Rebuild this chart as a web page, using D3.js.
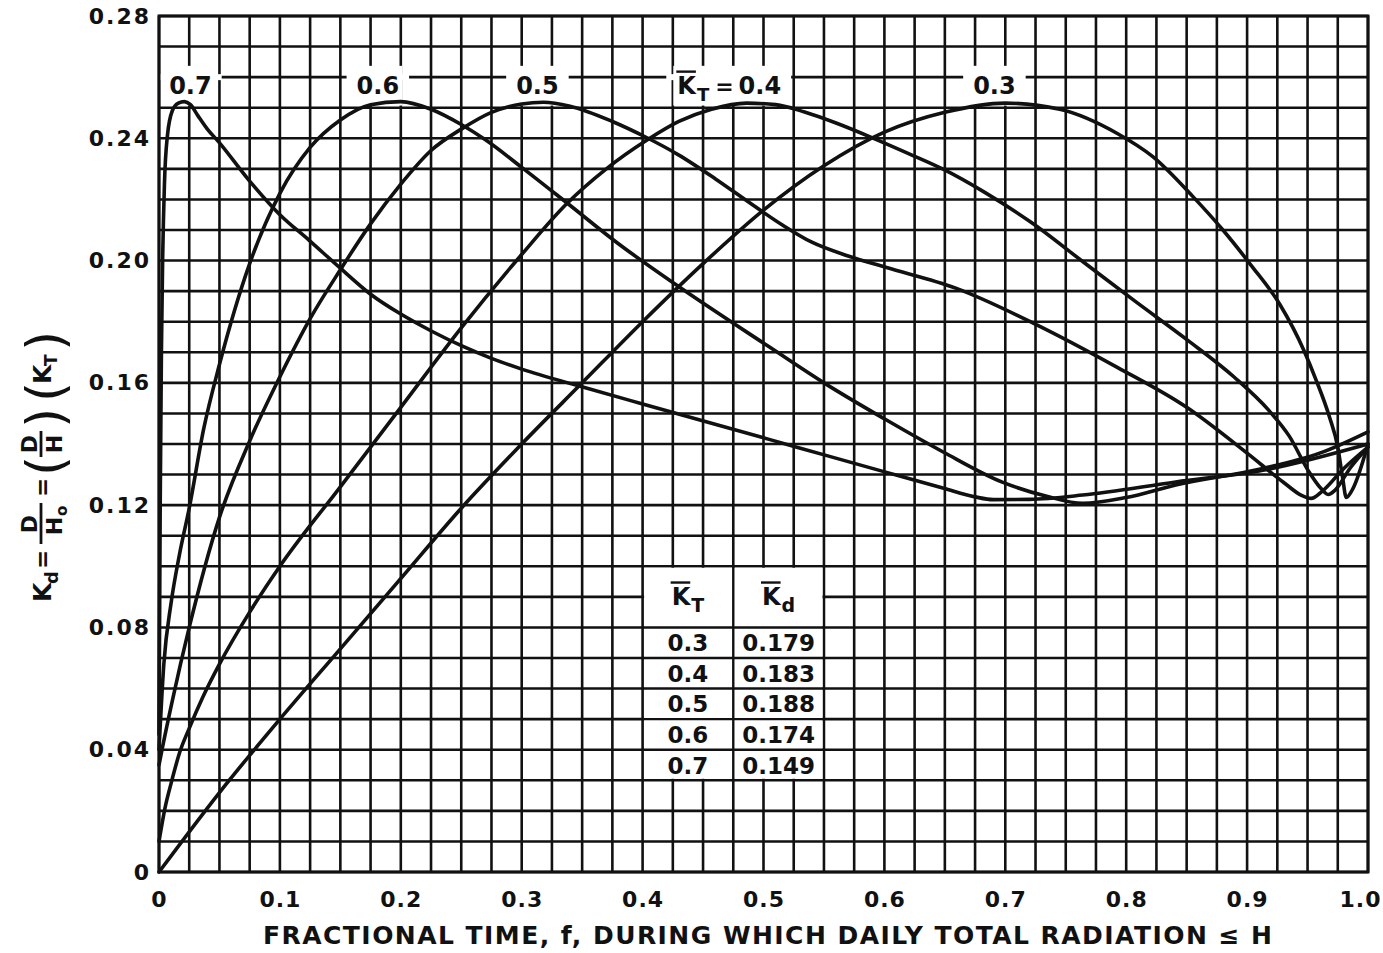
<!DOCTYPE html>
<html><head><meta charset="utf-8">
<script src="https://cdn.jsdelivr.net/npm/d3@7"></script>
<style>html,body{margin:0;padding:0;background:#fff;} svg{display:block;}</style>
</head><body><svg id="chart" width="1383" height="953"></svg>
<script>
// ---------------- data ----------------
const seriesNames = ["0.3", "0.4", "0.5", "0.6", "0.7"];

const f03 = [0, 0.05, 0.1, 0.15, 0.2, 0.25, 0.3, 0.35, 0.4, 0.45, 0.5, 0.55, 0.6, 0.65, 0.7, 0.745, 0.793, 0.822, 0.855, 0.88, 0.903, 0.927, 0.947, 0.957, 0.968, 0.975, 0.979, 0.982, 0.987, 1.0];
const k03 = [0, 0.026, 0.05, 0.073, 0.096, 0.119, 0.14, 0.16, 0.18, 0.199, 0.2165, 0.231, 0.242, 0.2485, 0.2515, 0.2495, 0.2415, 0.234, 0.221, 0.21, 0.1986, 0.1857, 0.1706, 0.161, 0.149, 0.139, 0.129, 0.1225, 0.125, 0.14];

const f04 = [0, 0.005, 0.01, 0.017, 0.025, 0.036, 0.05, 0.075, 0.1, 0.15, 0.2, 0.25, 0.3, 0.337, 0.37, 0.404, 0.43, 0.457, 0.486, 0.51, 0.534, 0.56, 0.591, 0.62, 0.649, 0.683, 0.721, 0.764, 0.807, 0.851, 0.889, 0.918, 0.935, 0.951, 0.961, 0.967, 0.973, 0.985, 1.0];
const k04 = [0.010, 0.021, 0.029, 0.039, 0.047, 0.057, 0.068, 0.085, 0.1, 0.126, 0.152, 0.178, 0.202, 0.2185, 0.23, 0.2395, 0.2455, 0.2495, 0.2515, 0.251, 0.2486, 0.245, 0.24, 0.235, 0.2298, 0.2223, 0.2126, 0.1997, 0.1868, 0.1739, 0.162, 0.151, 0.1425, 0.131, 0.1255, 0.1235, 0.125, 0.132, 0.139];

const f05 = [0, 0.003, 0.011, 0.025, 0.05, 0.075, 0.1, 0.125, 0.15, 0.175, 0.2, 0.225, 0.25, 0.275, 0.3, 0.318, 0.34, 0.375, 0.402, 0.43, 0.46, 0.49, 0.515, 0.54, 0.57, 0.601, 0.659, 0.726, 0.793, 0.85, 0.9, 0.93, 0.945, 0.953, 0.962, 0.98, 1.0];
const k05 = [0.035, 0.041, 0.056, 0.08, 0.116, 0.141, 0.162, 0.181, 0.197, 0.212, 0.225, 0.236, 0.243, 0.2485, 0.2512, 0.2518, 0.2505, 0.2455, 0.2405, 0.2345, 0.2268, 0.2185, 0.2118, 0.206, 0.2015, 0.1978, 0.191, 0.179, 0.165, 0.152, 0.137, 0.1275, 0.1232, 0.1222, 0.1245, 0.132, 0.139];

const f06 = [0, 0.004, 0.01, 0.017, 0.025, 0.037, 0.05, 0.075, 0.1, 0.125, 0.15, 0.175, 0.2, 0.225, 0.25, 0.27, 0.3, 0.337, 0.38, 0.428, 0.505, 0.55, 0.601, 0.649, 0.697, 0.735, 0.764, 0.8, 0.841, 0.913, 0.96, 1.0];
const k06 = [0.04, 0.068, 0.088, 0.104, 0.119, 0.145, 0.166, 0.199, 0.222, 0.237, 0.246, 0.251, 0.252, 0.2495, 0.2445, 0.2395, 0.2305, 0.219, 0.2055, 0.192, 0.1717, 0.160, 0.148, 0.1373, 0.1276, 0.1228, 0.1206, 0.1225, 0.1266, 0.132, 0.137, 0.144];

const f07 = [0, 0.001, 0.002, 0.003, 0.0045, 0.007, 0.011, 0.016, 0.021, 0.026, 0.032, 0.04, 0.049, 0.075, 0.1, 0.124, 0.15, 0.175, 0.2, 0.226, 0.251, 0.275, 0.3, 0.349, 0.4, 0.457, 0.529, 0.601, 0.649, 0.675, 0.69, 0.72, 0.764, 0.841, 0.913, 1.0];
const k07 = [0.045, 0.12, 0.17, 0.2, 0.225, 0.241, 0.249, 0.2515, 0.252, 0.251, 0.2475, 0.243, 0.239, 0.226, 0.215, 0.2067, 0.1975, 0.189, 0.1825, 0.1768, 0.172, 0.168, 0.1645, 0.1588, 0.1531, 0.1468, 0.1388, 0.1308, 0.1255, 0.1227, 0.1218, 0.1219, 0.1233, 0.1276, 0.1314, 0.14];

const xTickValues = [0, 0.1, 0.2, 0.3, 0.4, 0.5, 0.6, 0.7, 0.8, 0.9, 1.0];
const xTickLabels = ["0", "0.1", "0.2", "0.3", "0.4", "0.5", "0.6", "0.7", "0.8", "0.9", "1.0"];
const yTickValues = [0, 0.04, 0.08, 0.12, 0.16, 0.20, 0.24, 0.28];
const yTickLabels = ["0", "0.04", "0.08", "0.12", "0.16", "0.20", "0.24", "0.28"];

const tableKT = ["0.3", "0.4", "0.5", "0.6", "0.7"];
const tableKd = ["0.179", "0.183", "0.188", "0.174", "0.149"];

const xTitle = "FRACTIONAL TIME, f, DURING WHICH DAILY TOTAL RADIATION \u2264 H";

// ---------------- drawing ----------------
const svg = d3.select('#chart');
const FONT = '"DejaVu Sans", "Liberation Sans", sans-serif';
const INK = '#111';

svg.append('rect').attr('width', 1383).attr('height', 953).attr('fill', '#fff');

const x = d3.scaleLinear().domain([0, 1]).range([159, 1368]);
const y = d3.scaleLinear().domain([0, 0.28]).range([872, 16]);

// grid
const gridG = svg.append('g').attr('stroke', INK).attr('stroke-width', 2.6);
const vGrid = d3.range(0, 41).map(i => i * 0.025);
const hGrid = d3.range(0, 29).map(i => i * 0.01);
gridG.selectAll('line.v').data(vGrid).join('line').attr('class', 'v')
  .attr('x1', d => x(d)).attr('x2', d => x(d)).attr('y1', y(0)).attr('y2', y(0.28));
gridG.selectAll('line.h').data(hGrid).join('line').attr('class', 'h')
  .attr('x1', x(0)).attr('x2', x(1)).attr('y1', d => y(d)).attr('y2', d => y(d));

// masks behind the curve labels (drawn under curves)
const maskG = svg.append('g').attr('fill', '#fff');

// table
const tableG = svg.append('g');
const tx0 = x(0.4), tx1 = x(0.55), txm = x(0.475);
const ty0 = y(0.10), ty1 = y(0.03);
tableG.append('rect').attr('x', tx0 + 1.5).attr('y', ty0 + 1.5)
  .attr('width', tx1 - tx0 - 3).attr('height', ty1 - ty0 - 3).attr('fill', '#fff');
const rowLines = [0.08, 0.07, 0.06, 0.05, 0.04];
tableG.selectAll('line.r').data(rowLines).join('line').attr('class', 'r')
  .attr('x1', tx0).attr('x2', tx1).attr('y1', d => y(d)).attr('y2', d => y(d))
  .attr('stroke', INK).attr('stroke-width', 2.4);
tableG.append('line').attr('x1', txm).attr('x2', txm).attr('y1', ty0).attr('y2', ty1)
  .attr('stroke', INK).attr('stroke-width', 2.4);
tableG.selectAll('text.kt').data(tableKT).join('text').attr('class', 'kt')
  .attr('x', (tx0 + txm) / 2).attr('y', (d, i) => y(0.075 - i * 0.01) + 8.5)
  .attr('text-anchor', 'middle').attr('font-family', FONT).attr('font-weight', 'bold')
  .attr('font-size', 23).attr('fill', INK).text(d => d);
tableG.selectAll('text.kd').data(tableKd).join('text').attr('class', 'kd')
  .attr('x', (txm + tx1) / 2).attr('y', (d, i) => y(0.075 - i * 0.01) + 8.5)
  .attr('text-anchor', 'middle').attr('font-family', FONT).attr('font-weight', 'bold')
  .attr('font-size', 23).attr('fill', INK).text(d => d);

// helper: K with overline and subscript
function barK(g, x0, yBase, size, sub, subDy, subSize) {
  const k = g.append('text').attr('x', x0).attr('y', yBase).attr('font-family', FONT)
    .attr('font-weight', 'bold').attr('font-size', size).attr('fill', INK).text('K');
  const kw = k.node().getComputedTextLength();
  const s = g.append('text').attr('x', x0 + kw + 1).attr('y', yBase + subDy).attr('font-family', FONT)
    .attr('font-weight', 'bold').attr('font-size', subSize).attr('fill', INK).text(sub);
  const sw = s.node().getComputedTextLength();
  g.append('line').attr('x1', x0 - 1).attr('x2', x0 + kw).attr('y1', yBase - size * 0.93)
    .attr('y2', yBase - size * 0.93).attr('stroke', INK).attr('stroke-width', 2.4);
  return kw + 1 + sw;
}

// table header
{
  const hy = y(0.09) + 8;
  const hg1 = tableG.append('g');
  const w1 = barK(hg1, 0, hy, 24, 'T', 7, 19);
  hg1.attr('transform', `translate(${(tx0 + txm) / 2 - w1 / 2},0)`);
  const hg2 = tableG.append('g');
  const w2 = barK(hg2, 0, hy, 24, ' d', 7, 19);
  hg2.attr('transform', `translate(${(txm + tx1) / 2 - w2 / 2},0)`);
}

// curves
const series = [
  { name: seriesNames[0], f: f03, k: k03 },
  { name: seriesNames[1], f: f04, k: k04 },
  { name: seriesNames[2], f: f05, k: k05 },
  { name: seriesNames[3], f: f06, k: k06 },
  { name: seriesNames[4], f: f07, k: k07 }
].map(s => ({ name: s.name, pts: s.f.map((v, i) => [v, s.k[i]]) }));

const line = d3.line().x(d => x(d[0])).y(d => y(d[1])).curve(d3.curveMonotoneX);
svg.append('g').selectAll('path').data(series).join('path')
  .attr('d', d => line(d.pts)).attr('fill', 'none').attr('stroke', INK)
  .attr('stroke-width', 3.6).attr('stroke-linejoin', 'round').attr('stroke-linecap', 'round');

// border
svg.append('rect').attr('x', x(0)).attr('y', y(0.28)).attr('width', x(1) - x(0))
  .attr('height', y(0) - y(0.28)).attr('fill', 'none').attr('stroke', INK).attr('stroke-width', 3);

// curve labels at the top
const labelG = svg.append('g');
const labelBase = y(0.2545);
const nudge = { "0.3": -0.009, "0.4": 0.011, "0.5": -0.005, "0.6": -0.019, "0.7": 0.005 };
series.forEach(s => {
  const peak = d3.greatest(s.pts, d => d[1]);
  const cx = x(peak[0] + nudge[s.name]);
  let bb;
  if (s.name === "0.4") {
    const g = labelG.append('g');
    const t = g.append('text').attr('x', cx).attr('y', labelBase).attr('text-anchor', 'middle')
      .attr('font-family', FONT).attr('font-weight', 'bold').attr('font-size', 24).attr('fill', INK).text(s.name);
    const tb = t.node().getBBox();
    const eq = g.append('text').attr('x', tb.x - 5).attr('y', labelBase).attr('text-anchor', 'end')
      .attr('font-family', FONT).attr('font-weight', 'bold').attr('font-size', 22).attr('fill', INK).text('=');
    const eb = eq.node().getBBox();
    const kg = g.append('g');
    const w = barK(kg, 0, labelBase, 24, 'T', 7, 18);
    kg.attr('transform', `translate(${eb.x - 6 - w},0)`);
    bb = g.node().getBBox();
  } else {
    const t = labelG.append('text').attr('x', cx).attr('y', labelBase).attr('text-anchor', 'middle')
      .attr('font-family', FONT).attr('font-weight', 'bold').attr('font-size', 24).attr('fill', INK).text(s.name);
    bb = t.node().getBBox();
  }
  const yTop = y(0.2637), yBot = y(0.2507);
  maskG.append('rect').attr('x', bb.x - 3).attr('y', yTop).attr('width', bb.width + 6).attr('height', yBot - yTop);
  maskG.append('rect').attr('x', bb.x - 10).attr('y', y(0.26) - 3).attr('width', bb.width + 20).attr('height', 6);
});

// axes
const xAxis = d3.axisBottom(x).tickValues(xTickValues).tickFormat((d, i) => xTickLabels[i])
  .tickSize(0).tickPadding(19);
const xg = svg.append('g').attr('transform', `translate(0,${y(0)})`).call(xAxis);
xg.select('.domain').remove();
xg.selectAll('text').attr('font-family', FONT).attr('font-weight', 'bold').attr('font-size', 22)
  .attr('letter-spacing', 1).attr('fill', INK);
// keep the last label inside the picture
xg.selectAll('.tick').filter(d => d === 1).select('text').attr('text-anchor', 'end').attr('x', 1381 - x(1));

const yAxis = d3.axisLeft(y).tickValues(yTickValues).tickFormat((d, i) => yTickLabels[i])
  .tickSize(0).tickPadding(8);
const yg = svg.append('g').attr('transform', `translate(${x(0)},0)`).call(yAxis);
yg.select('.domain').remove();
yg.selectAll('text').attr('font-family', FONT).attr('font-weight', 'bold').attr('font-size', 22)
  .attr('letter-spacing', 2).attr('fill', INK);

// x title
svg.append('text').attr('x', 263).attr('y', 944).attr('font-family', FONT).attr('font-weight', 'bold')
  .attr('font-size', 25).attr('fill', INK).attr('textLength', 1009).attr('lengthAdjust', 'spacing')
  .text(xTitle);

// y title: Kd = D/Ho = (D/H)(KT), rotated
{
  const g = svg.append('g').attr('transform', 'translate(52,602) rotate(-90)')
    .attr('font-family', FONT).attr('font-weight', 'bold').attr('fill', INK);
  const T = (s, u, v, size, anchor, weight) => g.append('text').attr('x', u).attr('y', v)
    .attr('font-size', size).attr('text-anchor', anchor || 'start')
    .attr('font-weight', weight || 'bold').text(s);
  T('K', 0, -1, 25); T('d', 18, 6, 18);
  T('=', 33, -2, 23);
  T('D', 78, -15, 22, 'middle');
  g.append('line').attr('x1', 58).attr('x2', 99).attr('y1', -11).attr('y2', -11).attr('stroke', INK).attr('stroke-width', 2.8);
  T('H', 76, 10, 22, 'middle'); T('o', 86, 15, 15);
  T('=', 105, -2, 23);
  T('(', 126, 11, 52, 'start', 'normal');
  T('D', 158, -15, 22, 'middle');
  g.append('line').attr('x1', 145).attr('x2', 171).attr('y1', -11).attr('y2', -11).attr('stroke', INK).attr('stroke-width', 2.8);
  T('H', 158, 10, 22, 'middle');
  T(')', 174, 11, 52, 'start', 'normal');
  T('(', 200, 11, 52, 'start', 'normal');
  T('K', 218, -1, 25); T('T', 236, 5, 17);
  T(')', 251, 11, 52, 'start', 'normal');
}
</script></body></html>
